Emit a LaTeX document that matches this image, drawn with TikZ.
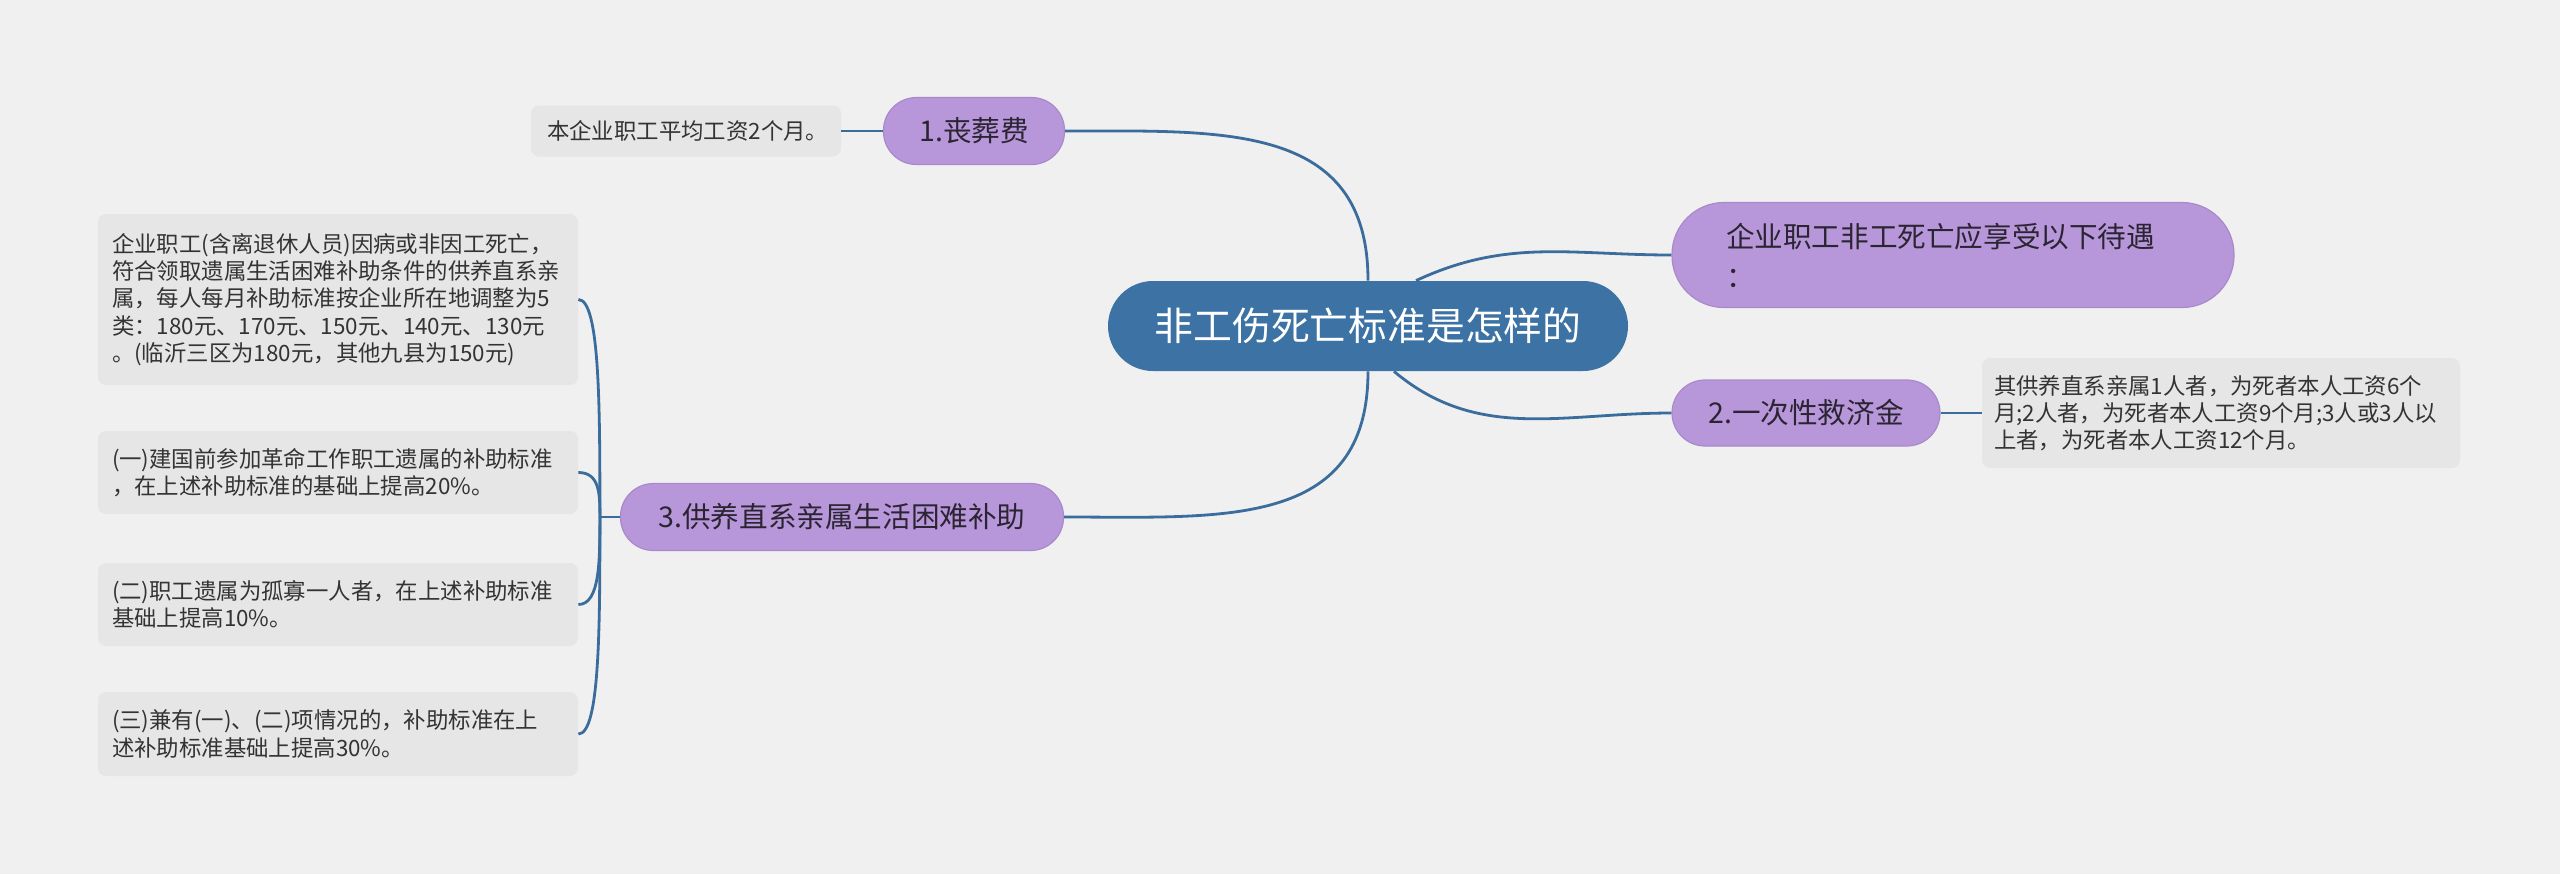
\documentclass[tikz,border=0pt]{standalone}
\usepackage{fontspec}
\setmainfont{Noto Sans CJK SC}
\usetikzlibrary{calc}
\definecolor{bgfill}{HTML}{F0F0F0}
\definecolor{rootfill}{HTML}{3C72A4}
\definecolor{topicfill}{HTML}{B797D9}
\definecolor{topicedge}{HTML}{A88ACB}
\definecolor{topictext}{HTML}{2B2433}
\definecolor{leaffill}{HTML}{E6E6E6}
\definecolor{leaftext}{HTML}{333333}
\definecolor{linkblue}{HTML}{3A6C9C}
\tikzset{
  root/.style={fill=rootfill, text=white, font={\fontsize{19.4pt}{23pt}\selectfont},
    rounded corners=22.5pt, minimum width=260pt, minimum height=45pt, inner sep=0pt},
  topic/.style={fill=topicfill, draw=topicedge, line width=0.6pt, text=topictext,
    font={\fontsize{14.3pt}{20pt}\selectfont}, rounded corners=16.5pt,
    minimum height=33.5pt, inner sep=0pt},
  leaf/.style={fill=leaffill, text=leaftext, font={\fontsize{11.2pt}{13.6pt}\selectfont},
    rounded corners=4pt, align=left, inner xsep=7pt, inner ysep=0pt},
  branch/.style={draw=linkblue, line width=1.4pt}
}

\begin{document}
\begin{tikzpicture}[x=0.5pt, y=-0.5pt]
                \fill[bgfill] (0,0) rectangle (2560,874);
                \useasboundingbox (0,0) rectangle (2560,874);
                \node[root] (root) at (1368,326) {非工伤死亡标准是怎样的};
                \node[topic, minimum width=90.5pt] (n1) at (974,131) {1.丧葬费};
                \node[topic, minimum width=281pt, minimum height=52.5pt, rounded corners=26pt,
                  text width=227pt, inner xsep=27pt, align=left] (n0) at (1953,255)
                  {企业职工非工死亡应享受以下待遇\\：};
                \node[topic, minimum width=134pt, minimum height=33pt] (n2) at (1806,413) {2.一次性救济金};
                \node[topic, minimum width=221.5pt] (n3) at (842,517) {3.供养直系亲属生活困难补助};
                \node[leaf, text width=139pt, inner xsep=8pt, minimum height=25.5pt] (l1) at (686,131)
                  {本企业职工平均工资2个月。};
                \node[leaf, text width=227pt, inner xsep=6pt, minimum height=55pt] (l2) at (2221,413)
                  {其供养直系亲属1人者，为死者本人工资6个\\月;2人者，为死者本人工资9个月;3人或3人以\\上者，为死者本人工资12个月。};
                \node[leaf, text width=226pt, minimum height=85.5pt] (l3a) at (338,299.5)
                  {企业职工(含离退休人员)因病或非因工死亡，\\符合领取遗属生活困难补助条件的供养直系亲\\属，每人每月补助标准按企业所在地调整为5\\类：180元、170元、150元、140元、130元\\。(临沂三区为180元，其他九县为150元)};
                \node[leaf, text width=226pt, minimum height=41.5pt] (l3b) at (338,472.5)
                  {(一)建国前参加革命工作职工遗属的补助标准\\，在上述补助标准的基础上提高20\%。};
                \node[leaf, text width=226pt, minimum height=41.5pt] (l3c) at (338,604.5)
                  {(二)职工遗属为孤寡一人者，在上述补助标准\\基础上提高10\%。};
                \node[leaf, text width=226pt, minimum height=42pt] (l3d) at (338,734)
                  {(三)兼有(一)、(二)项情况的，补助标准在上\\述补助标准基础上提高30\%。};
                \coordinate (fork) at ($(n3.west)+(-20,0)$);
                \draw[branch] (root.north) to[out=90, in=0, looseness=1.2] (n1.east);
                \draw[branch] (root.south) to[out=-90, in=0, looseness=1.2] (n3.east);
                \draw[branch] ([xshift=24pt]root.north) to[out=25, in=180] (n0.west);
                \draw[branch] ([xshift=13pt]root.south) to[out=-40, in=180] (n2.west);
                \draw[branch] (n1.west) -- (l1.east);
                \draw[branch] (n2.east) -- (l2.west);
                \draw[branch] (n3.west) -- (fork);
                \foreach \leafname in {l3a, l3b, l3c, l3d}
                  \draw[branch] (fork) .. controls ($(fork)!0.5!(fork |- \leafname.east)$)
                    and (fork |- \leafname.east) .. (\leafname.east);
            \end{tikzpicture}
\end{document}
